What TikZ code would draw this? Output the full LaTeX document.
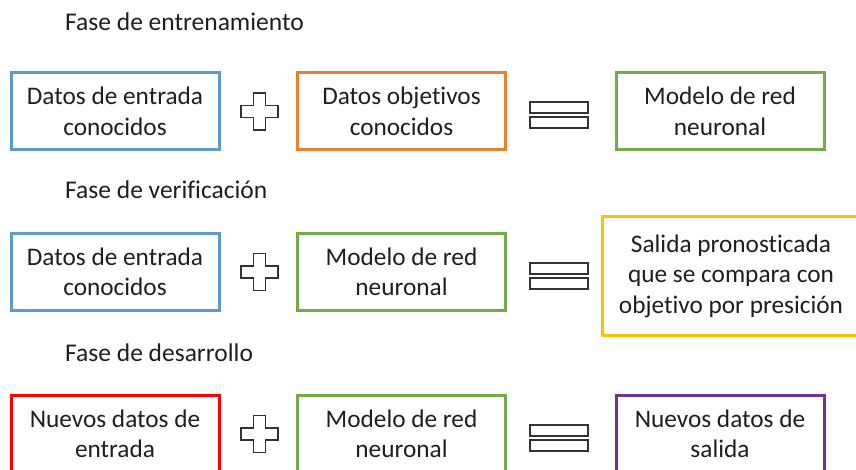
\documentclass[tikz,border=0pt]{standalone}
\usepackage{fontspec}
\setmainfont{Carlito}[Ligatures=NoCommon]
\usetikzlibrary{positioning}

\definecolor{cblue}{HTML}{5B9BD5}
\definecolor{corange}{HTML}{ED7D31}
\definecolor{cgreen}{HTML}{70AD47}
\definecolor{cyellow}{HTML}{FFC000}
\definecolor{cred}{HTML}{FF0000}
\definecolor{cpurple}{HTML}{7030A0}

\tikzset{
	box/.style={draw, line width=3pt, minimum width=208pt, minimum height=77pt,
		inner sep=0pt, align=center, text=black!88,
		font=\fontsize{25.3}{30.5}\selectfont},
	phase/.style={anchor=west, inner sep=0pt, text=black!88,
		font=\fontsize{25.5}{30}\selectfont},
	sym/.style={draw=black!80, line width=1.2pt, fill=white}
}

\begin{document}
\begin{tikzpicture}[x=1pt,y=-1pt]

	\newcommand\PlusShape{+(-6,-18.5) -- +(6,-18.5) -- +(6,-6) --
	+(18.5,-6) -- +(18.5,6) -- +(6,6) -- +(6,18.5) -- +(-6,18.5) --
	+(-6,6) -- +(-18.5,6) -- +(-18.5,-6) -- +(-6,-6) -- cycle}
	\newcommand\EqualBars{+(-29,-13) rectangle +(29,-2)
	+(-29,2) rectangle +(29,13)}

\useasboundingbox[fill=white] (0,0) rectangle (856,470);

% Fase de entrenamiento
\node[phase] (t1) at (65,22) {Fase de entrenamiento};
\node[box, draw=cblue] (in1) at (115,111.5) {Datos de entrada\\conocidos};
\node[box, draw=corange] (obj1) at (401.5,111.5) {Datos objetivos\\conocidos};
\node[box, draw=cgreen] (mod1) at (720,111.5) {Modelo de red\\neuronal};
\coordinate (p1) at (259.5,111.5);
\coordinate (e1) at (559,115);
\draw[sym] (p1) \PlusShape;
\draw[sym] (e1) \EqualBars;

% Fase de verificacion
\node[phase] (t2) at (65,190) {Fase de verificación};
\node[box, draw=cblue] (in2) at (115,272) {Datos de entrada\\conocidos};
\node[box, draw=cgreen] (mod2) at (401.5,272) {Modelo de red\\neuronal};
\node[box, draw=cyellow, minimum width=258pt, minimum height=118pt]
	(out2) at (731,276) {Salida pronosticada\\que se compara con\\objetivo por presición};
\coordinate (p2) at (259.5,272);
\coordinate (e2) at (559,276);
\draw[sym] (p2) \PlusShape;
\draw[sym] (e2) \EqualBars;

% Fase de desarrollo
\node[phase] (t3) at (65,353) {Fase de desarrollo};
\node[box, draw=cred] (in3) at (115,434) {Nuevos datos de\\entrada};
\node[box, draw=cgreen] (mod3) at (401.5,434) {Modelo de red\\neuronal};
\node[box, draw=cpurple] (out3) at (720,434) {Nuevos datos de\\salida};
\coordinate (p3) at (259.5,434);
\coordinate (e3) at (559,438);
\draw[sym] (p3) \PlusShape;
\draw[sym] (e3) \EqualBars;

\end{tikzpicture}
\end{document}
